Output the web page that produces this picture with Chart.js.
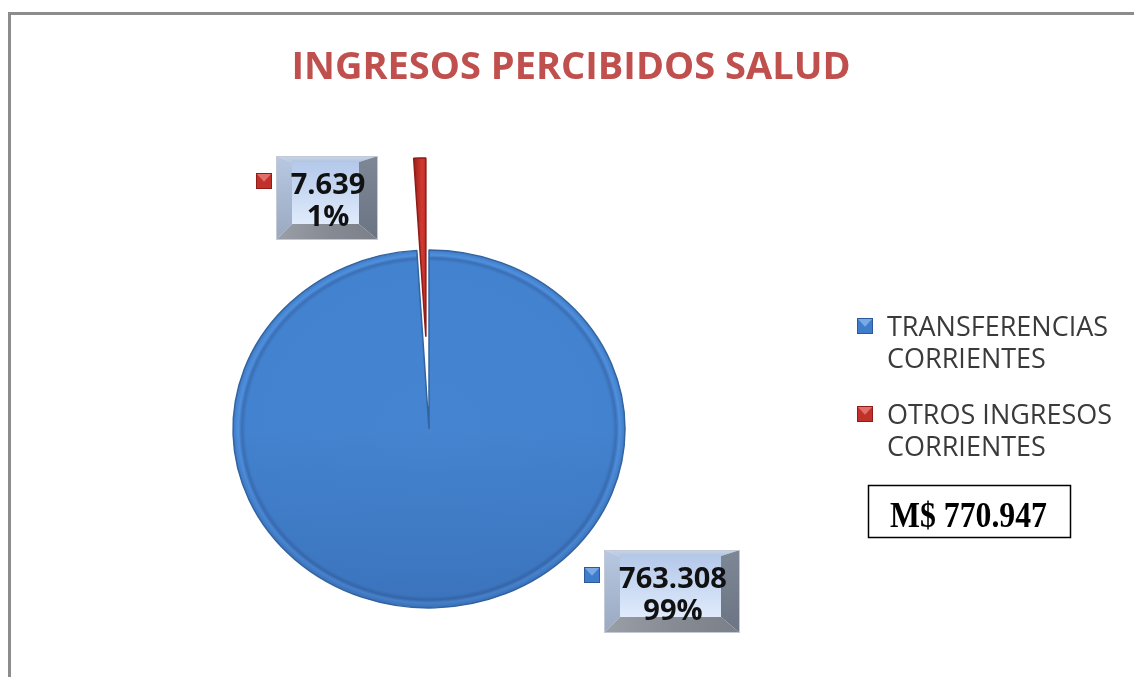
<!DOCTYPE html>
<html>
<head>
<meta charset="utf-8">
<title>Ingresos percibidos salud</title>
<script src="https://cdn.jsdelivr.net/npm/chart.js"></script>
<style>
  body { margin: 0; overflow: hidden; background: #fff; }
  #marco { position: absolute; left: 8px; top: 12px; width: 1200px; height: 700px; border: 3px solid #8c8c8c; }
  #torta { position: absolute; left: 0; top: 0; }
</style>
</head>
<body>
<div id="marco"></div>
<canvas id="torta" width="1134" height="677"></canvas>

<script>
// datos (M$)
var titulo = 'INGRESOS PERCIBIDOS SALUD';
var categorias = [['TRANSFERENCIAS', 'CORRIENTES'], ['OTROS INGRESOS', 'CORRIENTES']];
var montos = [763308, 7639];
var colores = ['#4584d1', '#c2302a'];

// miles con punto, como en el original
function fmt(n) {
    return String(n).replace(/\B(?=(\d{3})+(?!\d))/g, '.');
}
var total = montos.reduce(function (a, b) { return a + b; }, 0);

var RADIO = 196;
var ACHATADO = 0.913;      // la torta original es un poco eliptica
var SEPARACION = [0, 101]; // sector rojo desplazado hacia afuera

function poligono(ctx, pts, fill) {
    ctx.beginPath();
    ctx.moveTo(pts[0][0], pts[0][1]);
    for (var i = 1; i < pts.length; i++) ctx.lineTo(pts[i][0], pts[i][1]);
    ctx.closePath();
    ctx.fillStyle = fill;
    ctx.fill();
}

// caja con bisel estilo excel
function cajaBiselada(ctx, x, y, w, h) {
    var t = 6, l = 16, r = 19, b = 16;
    var gTop = ctx.createLinearGradient(0, y, 0, y + t);
    gTop.addColorStop(0, '#c9d6ea'); gTop.addColorStop(1, '#b3c4df');
    poligono(ctx, [[x, y], [x + w, y], [x + w - r, y + t], [x + l, y + t]], gTop);
    var gIzq = ctx.createLinearGradient(0, y, 0, y + h);
    gIzq.addColorStop(0, '#b8c8e2'); gIzq.addColorStop(1, '#9aa9c0');
    poligono(ctx, [[x, y], [x + l, y + t], [x + l, y + h - b], [x, y + h]], gIzq);
    var gDer = ctx.createLinearGradient(0, y, 0, y + h);
    gDer.addColorStop(0, '#7d8796'); gDer.addColorStop(1, '#6b7482');
    poligono(ctx, [[x + w, y], [x + w, y + h], [x + w - r, y + h - b], [x + w - r, y + t]], gDer);
    var gAba = ctx.createLinearGradient(x, 0, x + w, 0);
    gAba.addColorStop(0, '#9a9fa8'); gAba.addColorStop(0.5, '#868b94'); gAba.addColorStop(1, '#7a7f88');
    poligono(ctx, [[x, y + h], [x + l, y + h - b], [x + w - r, y + h - b], [x + w, y + h]], gAba);
    var gCara = ctx.createLinearGradient(0, y + t, 0, y + h - b);
    gCara.addColorStop(0, '#b4c8ea'); gCara.addColorStop(1, '#e0ebfc');
    ctx.fillStyle = gCara;
    ctx.fillRect(x + l, y + t, w - l - r, h - t - b);
    ctx.strokeStyle = '#c3cad6';
    ctx.lineWidth = 1;
    ctx.strokeRect(x + 0.5, y + 0.5, w - 1, h - 1);
}

// cuadrito de leyenda con bisel
function marcador(ctx, x, y, s, color, claro, oscuro) {
    ctx.fillStyle = color;
    ctx.fillRect(x, y, s, s);
    poligono(ctx, [[x, y], [x + s, y], [x + s / 2, y + s * 0.55]], claro);
    ctx.strokeStyle = oscuro;
    ctx.lineWidth = 1;
    ctx.strokeRect(x + 0.5, y + 0.5, s - 1, s - 1);
}

var separar = {
    id: 'separar',
    afterDatasetsUpdate: function (chart) {
        chart.getDatasetMeta(0).data.forEach(function (arc, i) {
            var d = SEPARACION[i];
            if (!d) return;
            var medio = (arc.startAngle + arc.endAngle) / 2;
            arc.x += Math.cos(medio) * d;
            arc.y += Math.sin(medio) * d;
        });
    }
};

var achatar = {
    id: 'achatar',
    beforeDatasetsDraw: function (chart) {
        var arc = chart.getDatasetMeta(0).data[0];
        var ctx = chart.ctx;
        ctx.save();
        ctx.translate(arc.x, arc.y);
        ctx.scale(1, ACHATADO);
        ctx.translate(-arc.x, -arc.y);
    },
    afterDatasetsDraw: function (chart) {
        // sombra suave en la mitad inferior del sector azul
        var arc = chart.getDatasetMeta(0).data[0];
        var ctx = chart.ctx;
        var g = ctx.createLinearGradient(0, arc.y, 0, arc.y + arc.outerRadius);
        g.addColorStop(0, 'rgba(20,40,90,0)');
        g.addColorStop(1, 'rgba(20,40,90,0.16)');
        ctx.beginPath();
        ctx.moveTo(arc.x + arc.outerRadius, arc.y);
        ctx.arc(arc.x, arc.y, arc.outerRadius - 0.5, 0, Math.PI);
        ctx.closePath();
        ctx.fillStyle = g;
        ctx.fill();
        ctx.restore();
    }
};

var decorado = {
    id: 'decorado',
    afterDraw: function (chart) {
        var ctx = chart.ctx;
        var arcos = chart.getDatasetMeta(0).data;
        var cx = arcos[0].x, cy = arcos[0].y;
        ctx.save();

        // titulo
        ctx.fillStyle = '#c0504d';
        ctx.font = 'bold 38px "Open Sans"';
        ctx.textAlign = 'center';
        ctx.textBaseline = 'alphabetic';
        ctx.fillText(titulo, 571, 79);

        // etiquetas de datos
        var cajas = [
            { dx: 175, dy: 121, w: 136, h: 83 },
            { dx: -153, dy: -273, w: 102, h: 84 }
        ];
        var marcas = [
            ['#3f7ccb', '#7aa9e4', '#2a5a9a'],
            ['#c2302a', '#e2706a', '#8e1c18']
        ];
        montos.forEach(function (v, i) {
            var c = cajas[i];
            var x = cx + c.dx, y = cy + c.dy;
            cajaBiselada(ctx, x, y, c.w, c.h);
            marcador(ctx, x - 20, y + 17, 16, marcas[i][0], marcas[i][1], marcas[i][2]);
            ctx.fillStyle = '#111';
            ctx.font = 'bold 29px "Open Sans"';
            ctx.textAlign = 'center';
            ctx.fillText(fmt(v), x + c.w / 2 + 1, y + 38);
            ctx.fillText(Math.round(v / total * 100) + '%', x + c.w / 2 + 1, y + 70);
        });

        // leyenda
        ctx.textAlign = 'left';
        ctx.font = '27px "Open Sans"';
        categorias.forEach(function (lineas, i) {
            var y0 = 318 + i * 88;
            marcador(ctx, 857, y0, 16, marcas[i][0], marcas[i][1], marcas[i][2]);
            ctx.fillStyle = '#3a3a3a';
            lineas.forEach(function (t, k) {
                ctx.fillText(t, 887, y0 + 18 + k * 32);
            });
        });

        // total
        ctx.strokeStyle = '#000';
        ctx.lineWidth = 1.5;
        ctx.strokeRect(868.5, 485.5, 202, 52);
        ctx.fillStyle = '#000';
        ctx.font = 'bold 36px "Liberation Serif"';
        ctx.textAlign = 'center';
        var txt = 'M$ ' + fmt(total);
        var w = ctx.measureText(txt).width;
        ctx.translate(968.5, 527);
        ctx.scale(157 / w, 1);
        ctx.fillText(txt, 0, 0);
        ctx.restore();
    }
};

// relleno con bisel en el borde
function degradado(c) {
    var chart = c.chart, a = chart.chartArea;
    if (!a) return colores[c.dataIndex];
    var cx = (a.left + a.right) / 2, cy = (a.top + a.bottom) / 2;
    var g;
    if (c.dataIndex === 0) {
        g = chart.ctx.createRadialGradient(cx, cy, 0, cx, cy, RADIO);
        g.addColorStop(0, '#4584d0');
        g.addColorStop(0.935, '#4382cf');
        g.addColorStop(0.955, '#3a6fb5');
        g.addColorStop(0.972, '#4f90de');
        g.addColorStop(1, '#3f7bc6');
    } else {
        g = chart.ctx.createLinearGradient(cx - 14, 0, cx, 0);
        g.addColorStop(0, '#a3231e');
        g.addColorStop(0.5, '#d23a30');
        g.addColorStop(1, '#a3231e');
    }
    return g;
}

var ctx = document.getElementById('torta').getContext('2d');
var grafico = new Chart(ctx, {
    type: 'pie',
    data: {
        labels: categorias,
        datasets: [{
            data: montos,
            backgroundColor: degradado,
            borderColor: ['#33649f', '#8e1c18'],
            borderWidth: 1.5,
            radius: RADIO,
            clip: false
        }]
    },
    options: {
        responsive: false,
        animation: false,
        events: [],
        layout: { padding: { left: 0, right: 276, top: 181, bottom: 0 } },
        plugins: {
            legend: { display: false },
            title: { display: false },
            tooltip: { enabled: false }
        }
    },
    plugins: [separar, achatar, decorado]
});
</script>
</body>
</html>
